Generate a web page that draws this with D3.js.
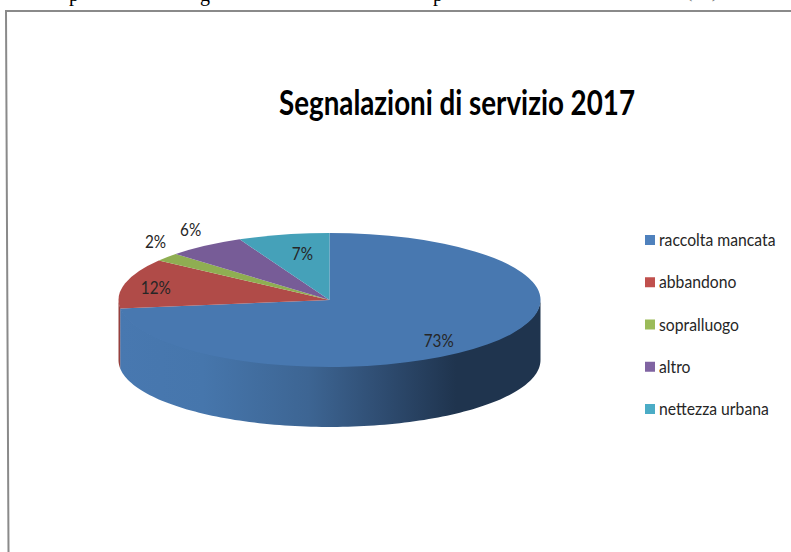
<!DOCTYPE html>
<html>
<head>
<meta charset="utf-8">
<script src="https://cdn.jsdelivr.net/npm/d3@7"></script>
<style>
  html, body { margin: 0; padding: 0; background: #fff; overflow: hidden; }
  svg { display: block; }
  text { font-family: Lato, "Open Sans", sans-serif; fill: #262626; }
</style>
</head>
<body>
<svg width="791" height="552"></svg>
<script>
var width = 791;
var height = 552;

// Values
var chartTitle = "Segnalazioni di servizio 2017";
var categories = ["raccolta mancata", "abbandono", "sopralluogo", "altro", "nettezza urbana"];
var values = [73, 12, 2, 6, 7];
var legendColors = ["#4f81bd", "#c0504d", "#9bbb59", "#8064a2", "#4bacc6"];
var topColors = ["#4878b0", "#b04b48", "#8fae52", "#775c97", "#45a1b9"];
var sideColors = ["url(#sideBlue)", "#96403e", "#7a9446", "#65507f", "#3a889c"];
// bits of the text line cut off by the top of the page
var clippedLetters = ["p", "g", "p", "(", ")"];

var svg = d3.select("svg");

var cx = 329.5, cy = 300, rx = 211, ry = 67, depth = 60;

// Gradient on the pie wall, follows the page x
var grad = svg.append("defs").append("linearGradient")
  .attr("id", "sideBlue")
  .attr("gradientUnits", "userSpaceOnUse")
  .attr("x1", cx - rx).attr("x2", cx + rx)
  .attr("y1", 0).attr("y2", 0);

[[0, "#4878b0"], [0.2, "#4676ac"], [0.45, "#3d6593"], [0.62, "#2f4d72"], [0.8, "#1f344e"], [1, "#1f344e"]]
  .forEach(function(s) {
    grad.append("stop").attr("offset", s[0]).attr("stop-color", s[1]);
  });

// Page frame, the scan is a little crooked
svg.append("path")
  .attr("d", "M8.5,552L6,11H791")
  .attr("fill", "none")
  .attr("stroke", "#8a8a8a")
  .attr("stroke-width", 2);

svg.selectAll(".clipped")
  .data(clippedLetters)
  .enter().append("text")
  .attr("class", "clipped")
  .attr("text-anchor", "middle")
  .attr("x", function(d, i) { return [74, 205, 438, 689, 715][i]; })
  .attr("y", function(d, i) { return i < 3 ? 1 : -3; })
  .style("font-family", "'Liberation Serif', serif")
  .style("font-size", "20px")
  .style("fill", function(d, i) { return i < 3 ? "#000" : "#777"; })
  .text(function(d) { return d; });

svg.append("text")
  .attr("x", 457)
  .attr("y", 115)
  .attr("text-anchor", "middle")
  .attr("textLength", 356)
  .attr("lengthAdjust", "spacingAndGlyphs")
  .style("font-size", "34px")
  .style("font-weight", "700")
  .style("fill", "#000")
  .text(chartTitle);

var pie = d3.pie().sort(null).value(function(d) { return d; });
var slices = pie(values);

function px(a, k) { return cx + rx * k * Math.sin(a); }
function py(a, k) { return cy - ry * k * Math.cos(a); }

// Wall: only the part of each slice facing the viewer.
// Starts 1px up so no white seam shows under the top face
var wall = d3.area()
  .x(function(a) { return px(a, 1); })
  .y0(function(a) { return py(a, 1) - 1; })
  .y1(function(a) { return py(a, 1) + depth; });

svg.selectAll(".wall")
  .data(slices)
  .enter().append("path")
  .attr("class", "wall")
  .attr("fill", function(d, i) { return sideColors[i]; })
  .attr("d", function(d) {
    var a0 = Math.max(d.startAngle, Math.PI / 2);
    var a1 = Math.min(d.endAngle, Math.PI * 1.5);
    if (a1 <= a0) return null;
    var steps = d3.range(0, 121).map(function(i) { return a0 + (a1 - a0) * i / 120; });
    return wall(steps);
  });

// Top face: unit arcs squashed into the ellipse
var arc = d3.arc().innerRadius(0).outerRadius(1);

svg.append("g")
  .attr("transform", "translate(" + cx + "," + cy + ") scale(" + rx + "," + ry + ")")
  .selectAll("path")
  .data(slices)
  .enter().append("path")
  .attr("fill", function(d, i) { return topColors[i]; })
  .attr("d", arc);

// Squeeze Lato a bit towards the narrower look of the reference font
function narrow(sel, factor) {
  sel.each(function() {
    d3.select(this)
      .attr("textLength", this.getComputedTextLength() * factor)
      .attr("lengthAdjust", "spacingAndGlyphs");
  });
}

// Labels sit along each slice's middle angle, hand tuned per slice
var labelK = [[0.69, 0.92], [0.85, 0.75], [1.07, 1.36], [1.12, 1.3], [0.59, 0.7]];

svg.selectAll(".pct")
  .data(slices)
  .enter().append("text")
  .attr("class", "pct")
  .attr("text-anchor", "middle")
  .attr("x", function(d, i) { return px((d.startAngle + d.endAngle) / 2, labelK[i][0]); })
  .attr("y", function(d, i) { return py((d.startAngle + d.endAngle) / 2, labelK[i][1]) + 6; })
  .style("font-size", "17px")
  .text(function(d) { return d.value + "%"; })
  .call(narrow, 0.9);

// Legend
var legendY = d3.scalePoint().domain(categories).range([240, 409]);

var legend = svg.selectAll(".legend")
  .data(categories)
  .enter().append("g")
  .attr("class", "legend")
  .attr("transform", function(d) { return "translate(645," + legendY(d) + ")"; });

legend.append("rect")
  .attr("x", 0).attr("y", -5)
  .attr("width", 10).attr("height", 10)
  .attr("fill", function(d, i) { return legendColors[i]; });

legend.append("text")
  .attr("x", 14)
  .attr("y", 6)
  .style("font-size", "17px")
  .text(function(d) { return d; })
  .call(narrow, 0.925);
</script>
</body>
</html>
